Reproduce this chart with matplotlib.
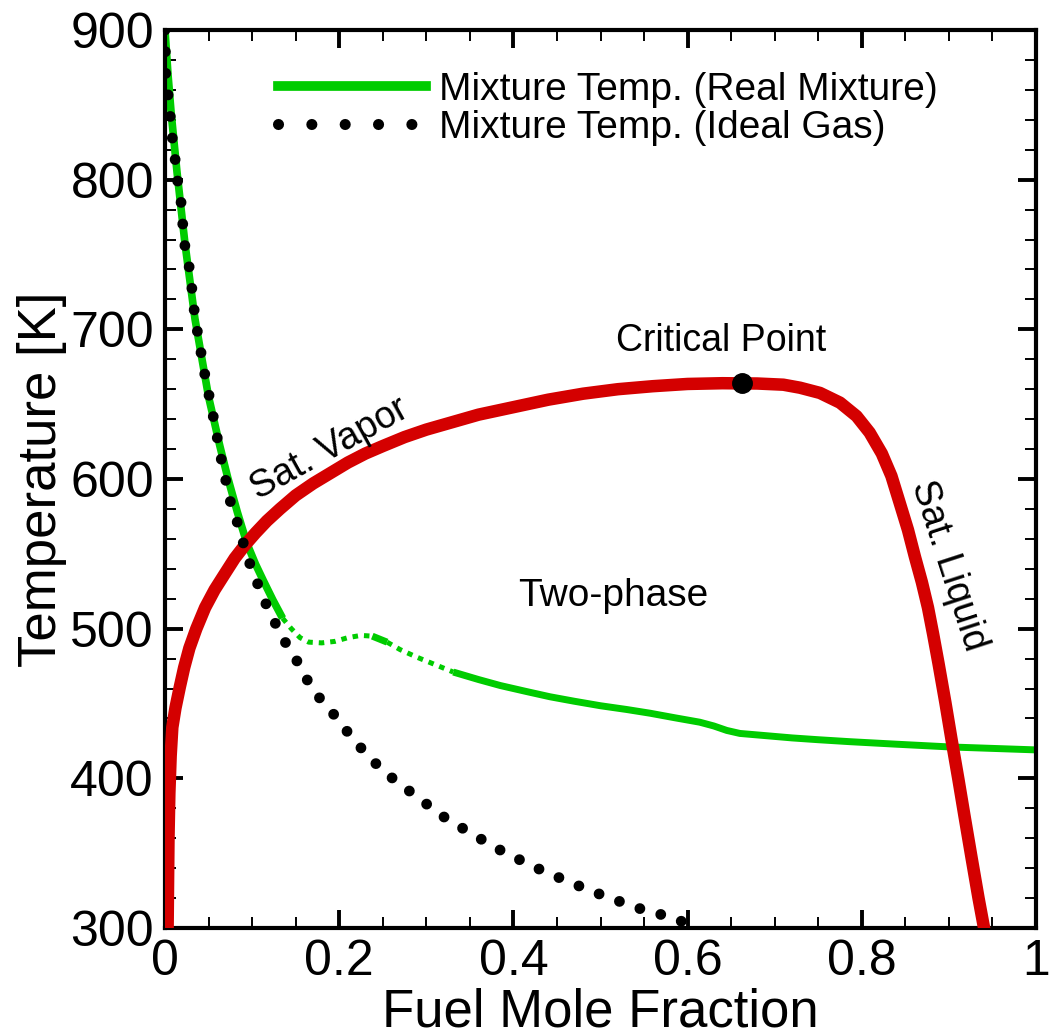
import matplotlib
matplotlib.use("Agg")
import matplotlib.pyplot as plt
from matplotlib.lines import Line2D
from matplotlib.ticker import MultipleLocator
import numpy as np

plt.rcParams['font.family'] = ['Liberation Sans', 'DejaVu Sans']

# ---- data ----
# saturation curve (sat. vapor -> critical point -> sat. liquid)
sat_x = [0.003, 0.0035, 0.004, 0.005, 0.0065, 0.0084, 0.012, 0.017, 0.022,
         0.028, 0.036, 0.046, 0.057, 0.069, 0.080, 0.092, 0.104, 0.117,
         0.132, 0.150, 0.170, 0.190, 0.210, 0.230, 0.250, 0.275, 0.300,
         0.330, 0.360, 0.400, 0.440, 0.480, 0.520, 0.560, 0.600, 0.640,
         0.680, 0.710, 0.729, 0.752, 0.775, 0.794, 0.809, 0.823, 0.834,
         0.843, 0.853, 0.861, 0.869, 0.876, 0.882, 0.888, 0.896, 0.903,
         0.911, 0.918, 0.926, 0.934, 0.941, 0.942]
sat_T = [300, 330, 360, 390, 415, 434, 447, 461, 474,
         487, 500, 514, 526, 537, 547, 556, 564, 572,
         580, 589, 597, 604, 611, 617, 622, 628, 633,
         638, 643, 648, 653, 657, 660, 662, 663.5, 664,
         663.8, 663, 661, 657.5, 651, 642, 631, 617, 602,
         585, 566, 548, 531, 514, 496, 477, 450.5, 426,
         399, 374.5, 347, 320, 298, 294]

# mixture temperature, real mixture
real_x = [0.0, 0.0035, 0.007, 0.0138, 0.023, 0.0344, 0.05, 0.063, 0.072,
          0.083, 0.094, 0.104, 0.113, 0.124, 0.135, 0.145, 0.155, 0.165,
          0.18, 0.195, 0.21, 0.225, 0.238, 0.255, 0.27, 0.289, 0.31, 0.331,
          0.36, 0.385, 0.415, 0.442, 0.47, 0.5, 0.53, 0.557, 0.585, 0.614,
          0.63, 0.645, 0.66, 0.69, 0.72, 0.75, 0.786, 0.84, 0.9, 0.95, 1.0]
real_T = [900, 870, 845, 805, 757, 707, 655, 622, 601,
          578, 557, 543, 532, 519, 507, 500, 494, 491,
          490.5, 491.5, 494, 495.5, 495, 491, 486, 481, 476, 471,
          466, 462, 458, 454.5, 451.5, 448.5, 446, 443.5, 440.5, 437.5,
          435, 432, 430, 428.5, 427, 425.8, 424.5, 422.8, 421, 420, 419]

# mixture temperature, ideal gas
ideal_x = [0.0, 0.001, 0.0046, 0.0069, 0.0092, 0.0138, 0.015, 0.0184, 0.0207,
           0.023, 0.0287, 0.0344, 0.045, 0.055, 0.065, 0.075, 0.083, 0.091,
           0.0976, 0.107, 0.117, 0.128, 0.139, 0.153, 0.164, 0.177, 0.192,
           0.219, 0.250, 0.284, 0.318, 0.352, 0.388, 0.427, 0.467, 0.506,
           0.545, 0.588, 0.610]
ideal_T = [900, 868, 852, 837, 823, 805, 795, 785, 768,
           755, 739, 708, 672, 643, 612, 585, 571, 555,
           543, 529, 515, 502, 490, 477, 465, 454, 444,
           424, 405, 390, 375, 363, 351, 340, 330, 321,
           313, 306, 299]

crit_x = [0.662]
crit_T = [664]

x_ticks = [0, 0.2, 0.4, 0.6, 0.8, 1]
x_ticklabels = ['0', '0.2', '0.4', '0.6', '0.8', '1']
y_ticks = [300, 400, 500, 600, 700, 800, 900]

GREEN = '#00cc00'
RED = '#d40000'

fig = plt.figure(figsize=(10.5, 10.36), dpi=100)
ax = fig.add_axes([165/1050, 1 - 928/1036, 871/1050, 898/1036])

rx = np.array(real_x)
rT = np.array(real_T)
m1 = rx <= 0.135
m2 = (rx >= 0.135) & (rx <= 0.238)
m3 = (rx >= 0.238) & (rx <= 0.255)
m4 = (rx >= 0.255) & (rx <= 0.331)
m5 = rx >= 0.331
ax.plot(rx[m1], rT[m1], color=GREEN, lw=5.5, solid_capstyle='butt', zorder=2)
ax.plot(rx[m2], rT[m2], color=GREEN, lw=3.6, ls=(0, (1.1, 1.2)), zorder=2)
ax.plot(rx[m3], rT[m3], color=GREEN, lw=5.0, solid_capstyle='butt', zorder=2)
ax.plot(rx[m4], rT[m4], color=GREEN, lw=3.6, ls=(0, (1.1, 1.2)), zorder=2)
ax.plot(rx[m5], rT[m5], color=GREEN, lw=5.0, solid_capstyle='butt', zorder=2)

ax.plot(sat_x, sat_T, color=RED, lw=9, solid_capstyle='butt',
        solid_joinstyle='round', zorder=3)

ax.plot(ideal_x, ideal_T, color='black', lw=7.8, ls=(0, (0.001, 2.0)),
        dash_capstyle='round', zorder=4)

ax.plot(crit_x, crit_T, 'o', color='black', ms=14, zorder=5)

# legend
h1 = Line2D([], [], color=GREEN, lw=7)
h2 = Line2D([], [], color='black', lw=8, ls=(0, (0.001, 3.0)), dash_capstyle='round')
leg = ax.legend([h1, h2], ['Mixture Temp. (Real Mixture)', 'Mixture Temp. (Ideal Gas)'],
                loc='upper left', bbox_to_anchor=(0.112, 0.971), frameon=False,
                fontsize=28, handlelength=3.8, handletextpad=0.33,
                labelspacing=0.05, borderaxespad=0.0)

# annotations
ax.text(0.638, 692, 'Critical Point', fontsize=27, ha='center', va='center')
ax.text(0.515, 522, 'Two-phase', fontsize=28, ha='center', va='center')
ax.text(0.189, 620, 'Sat. Vapor', fontsize=27, ha='center', va='center', rotation=29,
        rotation_mode='anchor')
ax.text(0.899, 542, 'Sat. Liquid', fontsize=27, ha='center', va='center', rotation=-72,
        rotation_mode='anchor')

ax.set_xlim(0, 1)
ax.set_ylim(300, 900)
ax.set_xticks(x_ticks)
ax.set_xticklabels(x_ticklabels)
ax.set_yticks(y_ticks)
ax.xaxis.set_minor_locator(MultipleLocator(0.05))
ax.yaxis.set_minor_locator(MultipleLocator(20))
ax.tick_params(which='both', direction='in', top=True, right=True, labelsize=36, pad=8)
ax.tick_params(which='major', length=13, width=2.8)
ax.tick_params(which='minor', length=8, width=1.4)
for s in ax.spines.values():
    s.set_linewidth(3)

ax.set_xlabel('Fuel Mole Fraction', fontsize=38, labelpad=2)
ax.set_ylabel('Temperature [K]', fontsize=38, labelpad=2)

fig.savefig('out.png', dpi=100)
